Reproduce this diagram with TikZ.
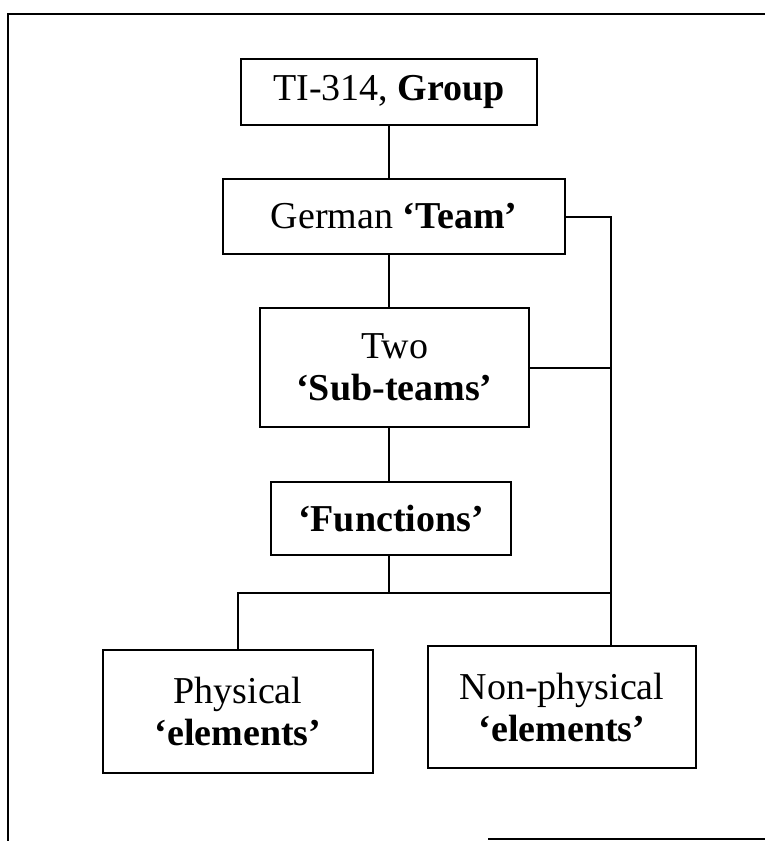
\documentclass[tikz,border=0pt]{standalone}
\usepackage{fontspec}
\setmainfont{Liberation Serif}
\begin{document}
\begin{tikzpicture}[x=1pt,y=-1pt,
  box/.style={draw,line width=2pt,inner sep=0pt,align=center,
    font=\fontsize{38}{42}\selectfont},
  link/.style={line width=2pt}]
\useasboundingbox (0,0) rectangle (765,841);

% outer frame (open on the right)
\draw[line width=2.4pt] (765,14) -- (8,14) -- (8,841);
\draw[line width=2.4pt] (488,839) -- (765,839);

% boxes
\node[box,minimum width=296pt,minimum height=66pt]  (b1) at (389,92)    {TI-314, \textbf{Group}};
\node[box,minimum width=342pt,minimum height=75pt]  (b2) at (394,216.5) {German \textbf{‘Team’}};
\node[box,minimum width=269pt,minimum height=119pt] (b3) at (394.5,367.5) {Two\\\textbf{‘Sub-teams’}};
\node[box,minimum width=240pt,minimum height=73pt]  (b4) at (391,518.5) {\textbf{‘Functions’}};
\node[box,minimum width=270pt,minimum height=123pt] (b5) at (238,711.5) {Physical\\\textbf{‘elements’}};
\node[box,minimum width=268pt,minimum height=122pt] (b6) at (562,707)   {Non-physical\\\textbf{‘elements’}};

% helper points for the trunk and the branch
\coordinate (trunk) at (611,0);
\coordinate (branch) at (0,593);
\coordinate (spine) at (389,0);

% connectors
\draw[link] (b1.south -| spine) -- (b2.north -| spine);
\draw[link] (b2.south -| spine) -- (b3.north -| spine);
\draw[link] (b3.south -| spine) -- (b4.north -| spine);
\draw[link] (b4.south -| spine) -- (branch -| spine);
\draw[link] (b5.north) |- (trunk |- branch);
\draw[link] (b2.east) -| (trunk |- b6.north);
\draw[link] (b3.east) -- (b3.east -| trunk);
\end{tikzpicture}
\end{document}
